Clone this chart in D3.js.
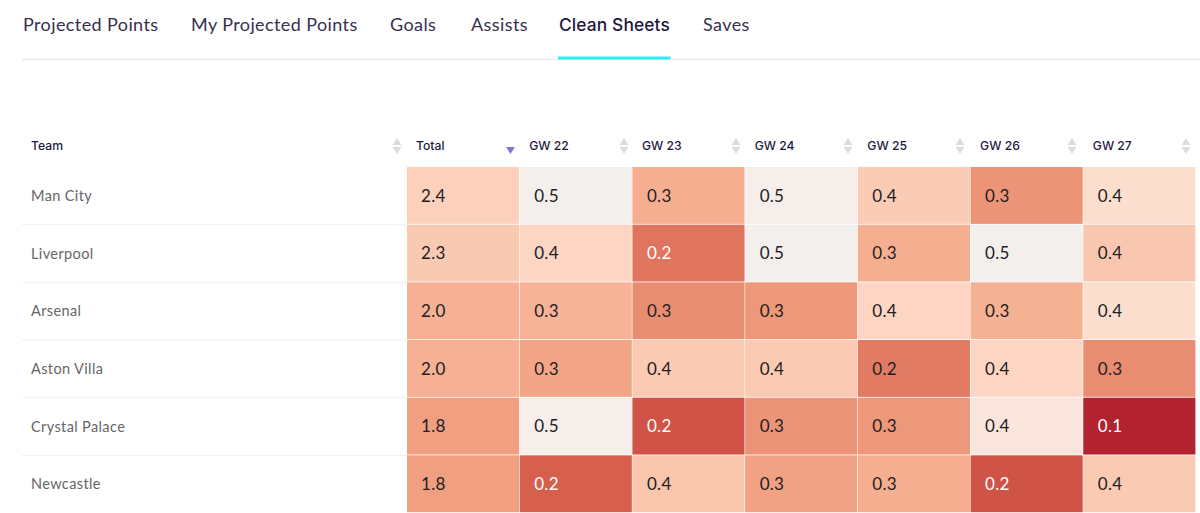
<!DOCTYPE html>
<html><head><meta charset="utf-8">
<script src="https://cdn.jsdelivr.net/npm/d3@7"></script>
<style>html,body{margin:0;padding:0;background:#fff;overflow:hidden}svg{display:block;font-family:Lato,sans-serif}</style>
</head><body><svg id="c" width="1200" height="513"></svg>
<script>
const tabs = ["Projected Points","My Projected Points","Goals","Assists","Clean Sheets","Saves"];
const activeTab = "Clean Sheets";
const tabX = [23,191,390,471,559,703];
const teams = ["Man City","Liverpool","Arsenal","Aston Villa","Crystal Palace","Newcastle"];
const columns = ["Total","GW 22","GW 23","GW 24","GW 25","GW 26","GW 27"];
const totals = [2.4,2.3,2.0,2.0,1.8,1.8];
const gw22 = [0.50,0.39,0.32,0.295,0.455,0.195];
const gw23 = [0.31,0.225,0.26,0.365,0.175,0.355];
const gw24 = [0.46,0.50,0.275,0.365,0.27,0.29];
const gw25 = [0.37,0.31,0.39,0.235,0.275,0.31];
const gw26 = [0.27,0.50,0.315,0.39,0.43,0.175];
const gw27 = [0.41,0.36,0.41,0.26,0.10,0.365];
const gwSeries = [gw22,gw23,gw24,gw25,gw26,gw27];

const svg = d3.select("#c");
const x = d3.scaleBand().domain(columns).range([407,1196]);
const y = d3.scaleBand().domain(teams).range([167,513]);
const color = d3.scaleLinear()
  .domain([0.10,0.20,0.30,0.40,0.455,0.50])
  .range(["#b2222f","#d8634f","#f4a98a","#fddbc9","#f6eeea","#f2efec"])
  .clamp(true);
const totalShade = d3.scaleLinear().domain([1.8,2.4]).range([0.285,0.38]);

// tabs
svg.append("line").attr("x1",22).attr("x2",1200).attr("y1",59.5).attr("y2",59.5).attr("stroke","#e6e6e6");
svg.selectAll("text.tab").data(tabs).join("text").attr("class","tab")
  .attr("x",(d,i)=>tabX[i]).attr("y",31)
  .attr("font-family",d=>d===activeTab?"Inter":"Lato")
  .attr("font-size",d=>d===activeTab?17.4:18)
  .attr("letter-spacing",d=>d===activeTab?0.1:0.4)
  .attr("font-weight",d=>d===activeTab?500:400)
  .attr("fill",d=>d===activeTab?"#1f1a40":"#37304e")
  .text(d=>d);
svg.append("rect").attr("x",558).attr("y",56.5).attr("width",112.5).attr("height",3).attr("fill","#2eeef2");

// header
const headX = c => c==="Total" ? 416 : x(c)+9.5;
svg.selectAll("text.head").data(["Team",...columns]).join("text").attr("class","head")
  .attr("x",d=>d==="Team"?31:headX(d)).attr("y",150)
  .attr("font-family","Inter").attr("font-size",12.2).attr("font-weight",500).attr("fill","#1f1a40").text(d=>d);
const sortX = [397,624,736,848,960,1072,1186];
const tri = (cx,cy,dir,w=4.5,h=7)=>`M${cx-w},${cy}L${cx+w},${cy}L${cx},${cy+dir*h}Z`;
svg.selectAll("path.sort").data(sortX.flatMap(v=>[[v,1],[v,-1]])).join("path").attr("class","sort")
  .attr("d",d=>d[1]<0?tri(d[0],145,-1):tri(d[0],147,1)).attr("fill","#dcdcdc");
svg.append("path").attr("d",tri(510.5,147,1,4.5,7)).attr("fill","#7f78d6");

// rows
svg.selectAll("line.sep").data(teams.slice(0,-1)).join("line").attr("class","sep")
  .attr("x1",22).attr("x2",407)
  .attr("y1",d=>y(d)+y.bandwidth()).attr("y2",d=>y(d)+y.bandwidth()).attr("stroke","#efefef");
svg.selectAll("text.team").data(teams).join("text").attr("class","team")
  .attr("x",31).attr("y",d=>y(d)+y.bandwidth()/2+5)
  .attr("font-size",14.5).attr("letter-spacing",0.38).attr("fill","#666").text(d=>d);

// cells
const cells = teams.flatMap((t,r)=>[
  {t,c:"Total",v:totals[r],shade:totalShade(totals[r]),label:d3.format(".1f")(totals[r])},
  ...gwSeries.map((s,i)=>({t,c:columns[i+1],v:s[r],shade:s[r],label:d3.format(".1f")(s[r])}))
]);
const g = svg.selectAll("g.cell").data(cells).join("g").attr("class","cell")
  .attr("transform",d=>`translate(${x(d.c)},${y(d.t)})`);
g.append("rect").attr("width",x.bandwidth()-0.6).attr("height",y.bandwidth()-0.8).attr("fill",d=>color(d.shade));
g.append("text").attr("x",d=>d.c==="Total"?14:14.5).attr("y",y.bandwidth()/2+6)
  .attr("font-size",17).attr("letter-spacing",0.3)
  .attr("fill",d=>d.shade<0.23?"#fff":"#22201f").text(d=>d.label);
</script></body></html>
